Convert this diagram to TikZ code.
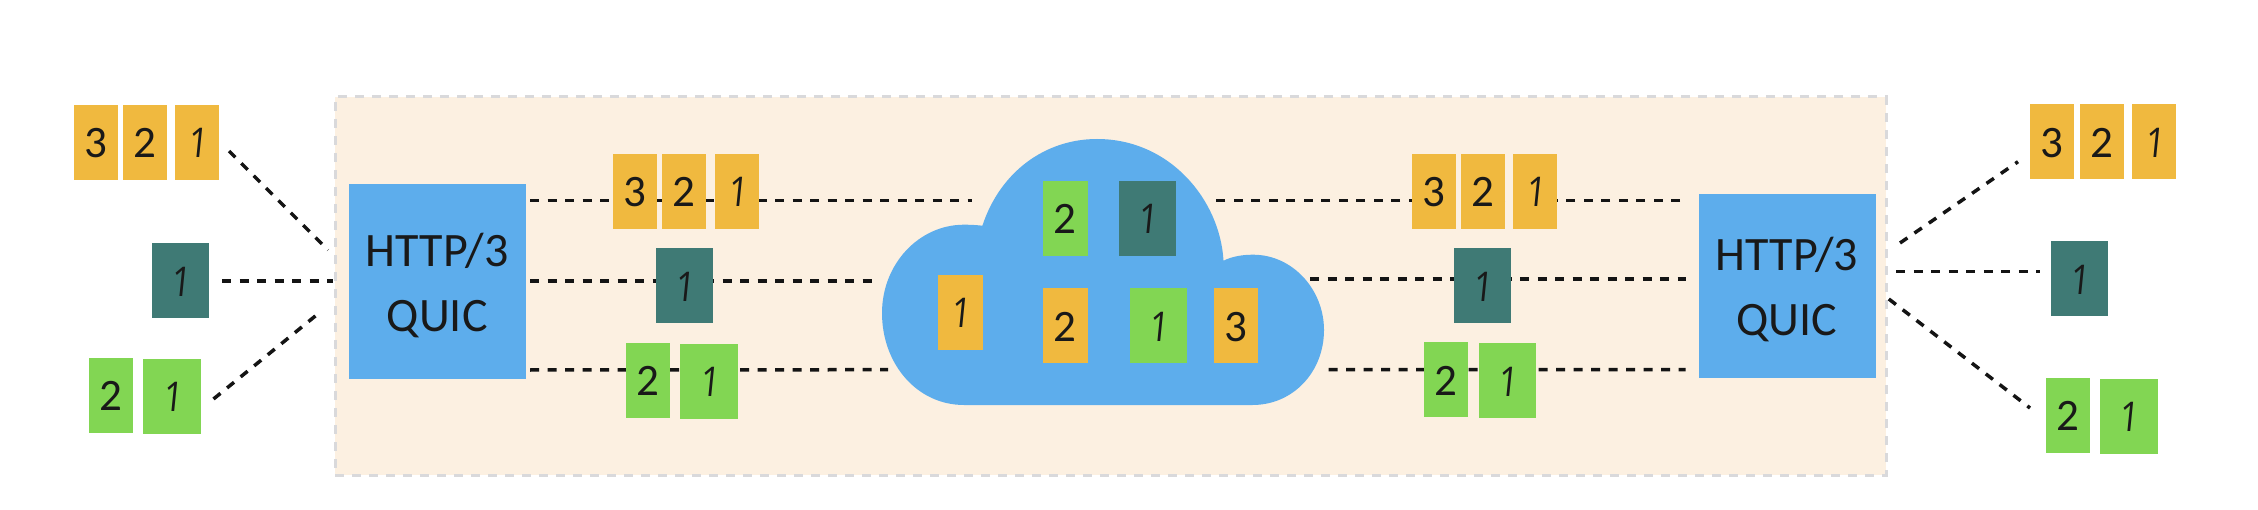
\documentclass[tikz,border=0pt]{standalone}
\usepackage{fontspec}
\setmainfont{Carlito}
\newfontfamily\slantone[FakeSlant=0.1,FakeStretch=0.85]{Open Sans}
\definecolor{pktyellow}{HTML}{F0B93F}
\definecolor{pktteal}{HTML}{3F7A75}
\definecolor{pktgreen}{HTML}{82D653}
\definecolor{quicblue}{HTML}{5DADEC}
\definecolor{panelbg}{HTML}{FCF0E1}
\definecolor{panelline}{HTML}{D9D9DB}
\tikzset{
  pkt/.style={inner sep=0pt,minimum height=75pt,text height=31pt,text depth=0pt,font=\fontsize{45}{45}\selectfont,text=black!90},
  ypkt/.style={pkt,fill=pktyellow,minimum width=44pt},
  gpkt/.style={pkt,fill=pktgreen,minimum width=44pt},
  gwide/.style={pkt,fill=pktgreen,minimum width=57.5pt},
  tpkt/.style={pkt,fill=pktteal,minimum width=57pt},
  quic/.style={fill=quicblue,inner sep=0pt,minimum width=177pt},
  quictext/.style={inner sep=0pt,align=center,font=\fontsize{48}{65}\selectfont,text=black!90},
  link/.style={draw=black!92,line width=3.5pt,dash pattern=on 9pt off 8.5pt},
  panel/.style={fill=panelbg,draw=panelline,line width=3pt,dash pattern=on 9pt off 8pt}
}
\newcommand{\one}{{\slantone\fontsize{41}{41}\selectfont 1}}
\begin{document}
\begin{tikzpicture}[x=1pt,y=-1pt]
\useasboundingbox (0,0) rectangle (2258,510);
\node[panel,minimum width=1551pt,minimum height=378pt,inner sep=0pt] (panel) at (1110.5,286) {};

% blue protocol boxes
\node[quic,minimum height=195.5pt] (httpL) at (437.2,281.5) {};
\node[quictext] (httpLt) at (437.2,286) {HTTP/3\\QUIC};
\node[quic,minimum height=184.5pt] (httpR) at (1787,286) {};
\node[quictext] (httpRt) at (1787,290) {HTTP/3\\QUIC};

% cloud
\path[fill=quicblue] (964,405) .. controls (917,405) and (882,364) .. (882,313)
  .. controls (882,264) and (919,224.7) .. (964,224.7)
  .. controls (970,224.7) and (976,225) .. (982.4,225.7)
  .. controls (1000,172) and (1045,139) .. (1097,139)
  .. controls (1170,139) and (1220,200) .. (1223.5,260.7)
  .. controls (1232,256.5) and (1242,254.7) .. (1253,254.7)
  .. controls (1293,254.7) and (1324,290) .. (1324,330)
  .. controls (1324,372) and (1293,405) .. (1252.5,405) -- cycle;

% free ends of the connectors
\coordinate (cLt) at (972,200.7);
\coordinate (cLm) at (878,281);
\coordinate (cLb) at (888,369.7);
\coordinate (cRt) at (1213,200.7);
\coordinate (cRm) at (1310,279);
\coordinate (cRb) at (1328.7,369.7);
\coordinate (hLt) at (530,200.7);
\coordinate (hLm) at (530,281);
\coordinate (hLb) at (530,370);
\coordinate (hRt) at (1680,200.7);
\coordinate (hRm) at (1685.7,279);
\coordinate (hRb) at (1685.7,369.5);
\coordinate (iLt) at (229,151);
\coordinate (oLt) at (328,250);
\coordinate (iLm) at (222,281);
\coordinate (oLm) at (333,281);
\coordinate (iLb) at (213.5,399);
\coordinate (oLb) at (320.6,311.7);
\coordinate (oRt) at (1900,243);
\coordinate (iRt) at (2018,161.7);
\coordinate (oRm) at (1896.4,271.7);
\coordinate (iRm) at (2040,271.7);
\coordinate (oRb) at (1888.8,299);
\coordinate (iRb) at (2030,408);

% connectors
\draw[link] (hLt) -- (cLt);
\draw[link] (hLm) -- (cLm);
\draw[link] (hLb) -- (cLb);
\draw[link] (hRt) -- (cRt);
\draw[link] (cRm) -- (hRm);
\draw[link] (cRb) -- (hRb);
\draw[link] (iLt) -- (oLt);
\draw[link] (iLm) -- (oLm);
\draw[link] (iLb) -- (oLb);
\draw[link] (oRt) -- (iRt);
\draw[link] (oRm) -- (iRm);
\draw[link] (oRb) -- (iRb);

% outer left packets
\node[ypkt] (a3) at (96,142.5) {3};
\node[ypkt] (a2) at (144.7,142.5) {2};
\node[ypkt] (a1) at (197,142.5) {\one};
\node[tpkt] (at) at (180,281) {\one};
\node[gpkt] (ag2) at (111,395) {2};
\node[gwide] (ag1) at (172,396) {\one};

% inner left packets
\node[ypkt] (b3) at (635.2,191.5) {3};
\node[ypkt] (b2) at (684.2,191.5) {2};
\node[ypkt] (b1) at (737,191.5) {\one};
\node[tpkt] (bt) at (684.7,286) {\one};
\node[gpkt] (bg2) at (648.3,380) {2};
\node[gwide] (bg1) at (709,381) {\one};

% packets inside the cloud
\node[ypkt,minimum width=45pt] (c1) at (960.3,312.2) {\one};
\node[gpkt,minimum width=45pt] (cg2) at (1065.2,218.3) {2};
\node[tpkt] (ct) at (1147.3,218.3) {\one};
\node[ypkt,minimum width=45pt] (cy2) at (1065.2,325.8) {2};
\node[gwide] (cg1) at (1158.7,325.8) {\one};
\node[ypkt] (cy3) at (1235.8,325.8) {3};

% inner right packets
\node[ypkt] (d3) at (1433.7,191.3) {3};
\node[ypkt] (d2) at (1482.8,191.3) {2};
\node[ypkt] (d1) at (1535,191.3) {\one};
\node[tpkt] (dt) at (1482.5,285.7) {\one};
\node[gpkt] (dg2) at (1446.2,379.7) {2};
\node[gwide] (dg1) at (1507.3,380.7) {\one};

% outer right packets
\node[ypkt] (e3) at (2052.3,142) {3};
\node[ypkt] (e2) at (2101.8,142) {2};
\node[ypkt] (e1) at (2154,142) {\one};
\node[tpkt] (et) at (2079.8,279) {\one};
\node[gpkt] (eg2) at (2067.5,415) {2};
\node[gwide] (eg1) at (2128.8,416) {\one};
\end{tikzpicture}
\end{document}
